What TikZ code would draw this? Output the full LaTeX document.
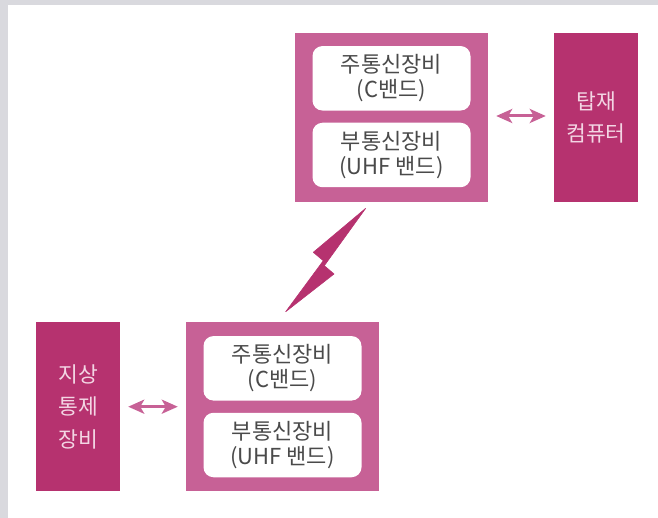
\documentclass[tikz,border=0pt]{standalone}
\usepackage{fontspec}
\setmainfont{Noto Sans CJK KR}
\usetikzlibrary{arrows.meta}
\definecolor{frameg}{HTML}{D9D9DE}
\definecolor{lightm}{HTML}{C76196}
\definecolor{darkm}{HTML}{B6326F}
\definecolor{innertxt}{HTML}{4A4A4A}
\definecolor{paletxt}{HTML}{F3D6E4}
\tikzset{
  bigbox/.style={fill=lightm, draw=none, minimum width=193pt, minimum height=169pt, inner sep=0pt},
  sidebox/.style={fill=darkm, draw=none, minimum width=84pt, minimum height=169pt, inner sep=0pt,
    text=paletxt, align=center, font=\fontsize{21.5}{32.5}\selectfont},
  innerbox/.style={fill=white, draw=none, rounded corners=10pt, minimum width=158pt, minimum height=64.5pt,
    inner sep=0pt, text=innertxt, align=center, font=\fontsize{22}{25}\selectfont},
  dblarrow/.style={draw=lightm, line width=3pt, {Stealth[length=16pt,width=14pt,inset=4pt]}-{Stealth[length=16pt,width=14pt,inset=4pt]}, shorten <=8pt, shorten >=8pt},
  bolt/.style={fill=darkm, draw=darkm, line width=0.6pt, line join=round}
}
\begin{document}
\begin{tikzpicture}[x=1pt,y=-1pt]
  \useasboundingbox (0,0) rectangle (658,518);
  \fill[frameg] (0,0) rectangle (658,5);
  \fill[frameg] (0,0) rectangle (8,518);
  % top group
  \node[bigbox] (satbox) at (391.5,117.5) {};
  \node[innerbox] (satmain) at (391.5,78.3) {주통신장비\\(C밴드)};
  \node[innerbox] (satsub) at (391.5,155) {부통신장비\\(UHF 밴드)};
  \node[sidebox] (computer) at (596,117.5) {탑재\\컴퓨터};
  % bottom group
  \node[bigbox] (gndbox) at (282.5,406.5) {};
  \node[innerbox] (gndmain) at (282.5,368.3) {주통신장비\\(C밴드)};
  \node[innerbox] (gndsub) at (282.5,445) {부통신장비\\(UHF 밴드)};
  \node[sidebox] (control) at (78,406.5) {지상\\통제\\장비};
  % arrows
  \draw[dblarrow] (satbox.east |- 0,116) -- (computer.west |- 0,116);
  \draw[dblarrow] (control.east |- 0,406.7) -- (gndbox.west |- 0,406.7);
  % lightning bolt
  \filldraw[bolt] (365.7,208.3) -- (313.3,252.3) -- (323.3,260.7) -- (285.7,311.7)
    -- (334,274) -- (324.3,265.7) -- cycle;
\end{tikzpicture}
\end{document}
